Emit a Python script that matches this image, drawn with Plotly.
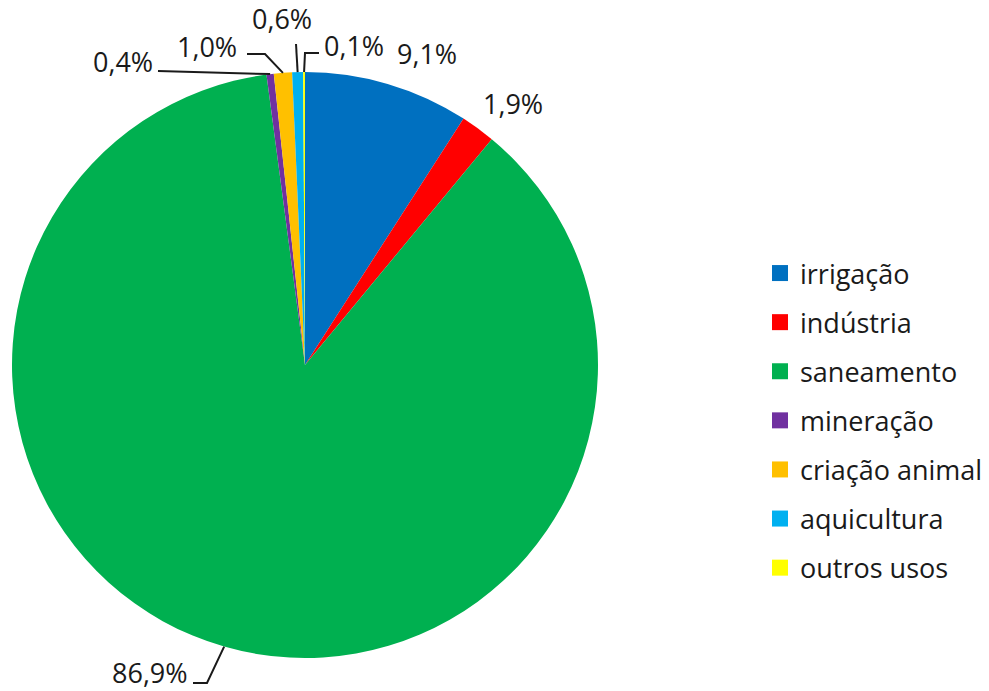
import math
import plotly.graph_objects as go

# Dados: participação de cada uso na vazão (%)
categorias = ["irrigação", "indústria", "saneamento", "mineração",
              "criação animal", "aquicultura", "outros usos"]
percentuais = [9.1, 1.9, 86.9, 0.4, 1.0, 0.6, 0.1]
rotulos = ["9,1%", "1,9%", "86,9%", "0,4%", "1,0%", "0,6%", "0,1%"]
cores = ["#0070C0", "#FF0000", "#00B050", "#7030A0",
         "#FFC000", "#00B0F0", "#FFFF00"]

W, H = 989, 691
FONTE = "Open Sans"
TAM = 27

# Geometria do gráfico de pizza (pixels)
CX, CY, R = 305, 365, 293


def px(x, y):
    return x / W, 1 - y / H


def borda(i):
    """Ponto na borda da fatia i, no ângulo médio (sentido horário a partir do topo)."""
    total = sum(percentuais)
    meio = sum(percentuais[:i]) + percentuais[i] / 2
    ang = 2 * math.pi * meio / total
    return CX + R * math.sin(ang), CY - R * math.cos(ang)


# Posição do texto de cada rótulo e cotovelos das linhas de chamada
posicao_rotulo = [
    dict(x=427, y=53, anchor="center", guia=None),
    dict(x=513, y=103, anchor="center", guia=None),
    dict(x=190, y=672, anchor="right", guia=[(193, 683), (207, 683)]),
    dict(x=155, y=61, anchor="right", guia=[(158, 71)]),
    dict(x=239, y=46, anchor="right", guia=[(247, 54), (265, 54)]),
    dict(x=282, y=19, anchor="center", guia=[(296, 44)]),
    dict(x=322, y=45, anchor="left", guia=[(319, 53), (305, 53)]),
]

fig = go.Figure()

x0, y1 = px(CX - R, CY - R)
x1, y0 = px(CX + R, CY + R)
fig.add_trace(go.Pie(
    labels=categorias,
    values=percentuais,
    sort=False,
    direction="clockwise",
    rotation=0,
    marker=dict(colors=cores, line=dict(width=0)),
    textinfo="none",
    hoverinfo="label+percent",
    showlegend=False,
    domain=dict(x=[x0, x1], y=[y0, y1]),
))

# Legenda com um grupo por categoria para espaçar os itens
for i, (nome, cor) in enumerate(zip(categorias, cores)):
    fig.add_trace(go.Scatter(
        x=[None], y=[None], mode="markers", name=nome,
        marker=dict(symbol="square", size=16, color=cor),
        legendgroup=f"g{i}", showlegend=True,
    ))

anotacoes = []
formas = []
for i, (txt, pos) in enumerate(zip(rotulos, posicao_rotulo)):
    ax, ay = px(pos["x"], pos["y"])
    anotacoes.append(dict(
        x=ax, y=ay, xref="paper", yref="paper", text=txt, showarrow=False,
        xanchor=pos["anchor"], yanchor="middle",
        font=dict(family=FONTE, size=TAM, color="#1a1a1a"),
    ))
    if pos["guia"]:
        pontos = pos["guia"] + [borda(i)]
        caminho = ""
        for j, (gx, gy) in enumerate(pontos):
            fx, fy = px(gx, gy)
            caminho += ("M" if j == 0 else " L") + f" {fx:.5f} {fy:.5f}"
        formas.append(dict(type="path", xref="paper", yref="paper",
                           path=caminho, line=dict(color="#1a1a1a", width=2)))

fig.update_layout(
    width=W, height=H,
    margin=dict(l=0, r=0, t=0, b=0),
    paper_bgcolor="white", plot_bgcolor="white",
    font=dict(family=FONTE, size=TAM, color="#1a1a1a"),
    xaxis=dict(visible=False), yaxis=dict(visible=False),
    legend=dict(
        x=760 / W, xanchor="left",
        y=1 - 249 / H, yanchor="top",
        tracegroupgap=11,
        font=dict(family=FONTE, size=TAM, color="#1a1a1a"),
        bgcolor="rgba(0,0,0,0)",
    ),
    annotations=anotacoes,
    shapes=formas,
)

fig.write_html("out.html")
